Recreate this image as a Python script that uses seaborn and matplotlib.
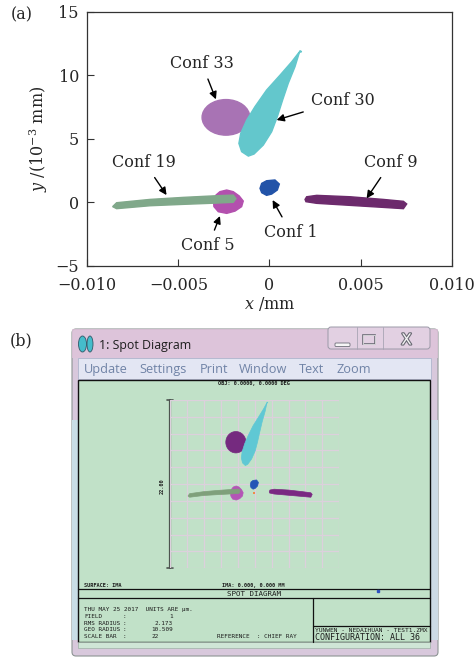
#Basic libraries
import numpy as np
import pandas as pd

#Plotting libraries
import matplotlib
matplotlib.use("Agg")
import matplotlib.pyplot as plt
import seaborn as sns
from matplotlib.patches import Ellipse, Rectangle, FancyBboxPatch
import matplotlib.patheffects as pe

#Spot outlines: x in mm, y in 1e-3 mm
conf1_x = [-0.00043, -0.00016, 0.00030, 0.00054, 0.00043, 0.00012, -0.00016, -0.00043, -0.00052]
conf1_y = [1.48, 1.69, 1.75, 1.43, 0.96, 0.64, 0.54, 0.75, 1.09]

conf5_x = [-0.00272, -0.00235, -0.00199, -0.00166, -0.00144, -0.00153, -0.00189, -0.00235, -0.00281, -0.00305, -0.00308, -0.00294]
conf5_y = [0.83, 0.96, 0.83, 0.49, 0.09, -0.35, -0.70, -0.88, -0.75, -0.35, 0.17, 0.56]

conf19_x = [-0.00861, -0.00839, -0.00656, -0.00473, -0.00290, -0.00199, -0.00184,
            -0.00199, -0.00290, -0.00473, -0.00656, -0.00839]
conf19_y = [-0.35, -0.04, 0.22, 0.38, 0.51, 0.56, 0.28,
            -0.01, -0.07, -0.17, -0.28, -0.51]

conf9_x = [0.00195, 0.00204, 0.00259, 0.00442, 0.00625, 0.00735, 0.00753,
           0.00735, 0.00625, 0.00442, 0.00259, 0.00200]
conf9_y = [0.22, 0.43, 0.54, 0.43, 0.22, 0.07, -0.14,
           -0.51, -0.41, -0.25, -0.09, 0.04]

conf30_x = [0.00177, 0.00167, 0.00140, 0.00103, 0.00072, 0.00043, 0.00012, -0.00034, -0.00085,
            -0.00116, -0.00153, -0.00168, -0.00158, -0.00125, -0.00080, -0.00016, 0.00058, 0.00122, 0.00162]
conf30_y = [11.85, 11.93, 10.67, 9.36, 8.04, 6.73, 5.55, 4.50, 3.79,
            3.63, 3.98, 4.63, 5.42, 6.47, 7.52, 8.83, 10.01, 11.06, 11.80]

#Conf 33 is an ellipse: centre and full size
conf33_center = (-0.00239, 6.68)
conf33_size = (0.00262, 2.80)

#Annotation labels
label_names = ['Conf 33', 'Conf 30', 'Conf 19', 'Conf 9', 'Conf 5', 'Conf 1']
label_x = [-0.00372, 0.00400, -0.00687, 0.00667, -0.00336, 0.00116]
label_y = [10.93, 8.04, 3.14, 3.14, -3.43, -2.37]
tip_x = [-0.00294, 0.00039, -0.00565, 0.00533, -0.00272, 0.00017]
tip_y = [8.10, 6.47, 0.56, 0.30, -1.09, 0.17]

x_ticks = [-0.010, -0.005, 0, 0.005, 0.010]
x_ticklabels = ['\u22120.010', '\u22120.005', '0', '0.005', '0.010']
y_ticks = [-5, 0, 5, 10, 15]
y_ticklabels = ['\u22125', '0', '5', '10', '15']

#Colours (a) and (b)
colors_a = {'33': '#a873b4', '30': '#63c7cc', '5': '#b350ae', '19': '#80a88a', '9': '#6c2a6c', '1': '#2253a8'}
colors_b = {'33': '#752a7f', '30': '#5fc8d4', '5': '#b455b6', '19': '#7fa07b', '9': '#7a2982', '1': '#2455b6'}

polys = {'30': (conf30_x, conf30_y), '5': (conf5_x, conf5_y), '19': (conf19_x, conf19_y),
         '9': (conf9_x, conf9_y), '1': (conf1_x, conf1_y)}

sns.set_style("ticks")
plt.rcParams['font.family'] = ['DejaVu Serif']
plt.rcParams['mathtext.fontset'] = 'dejavuserif'

fig = plt.figure(figsize=(4.75, 6.59), dpi=100)

#Panel (b) background: pixel coordinates
axb = fig.add_axes([0, 0, 1, 1], zorder=0)
axb.set_xlim(0, 475)
axb.set_ylim(659, 0)
axb.axis('off')

#window frame
axb.add_patch(FancyBboxPatch((72, 329), 366, 327, boxstyle="round,pad=0,rounding_size=4",
                             fc='#d8c8dc', ec='#8d9494', lw=0.8))
axb.add_patch(Rectangle((72, 329), 366, 29, fc='#dfc4da', ec='none', alpha=0.8))
axb.add_patch(Rectangle((72, 420), 6, 220, fc='#c9dde6', ec='none'))
axb.add_patch(Rectangle((430, 420), 8, 220, fc='#cddbe6', ec='none'))
#icon
axb.add_patch(Ellipse((82.5, 344), 8, 16, fc='#45bccb', ec='#305868', lw=0.6))
axb.add_patch(Ellipse((90, 344), 6, 16, fc='#45bccb', ec='#305868', lw=0.6))
axb.text(99, 345, '1: Spot Diagram', family='Open Sans', fontsize=8.9, color='#1e1e1e', va='center', ha='left')
#buttons
axb.add_patch(FancyBboxPatch((328, 327), 102, 22, boxstyle="round,pad=0,rounding_size=3",
                             fc='#e2d0e2', ec='#9b9aa8', lw=0.7))
axb.plot([356.7, 356.7], [327, 349], color='#a8a4b4', lw=0.6)
axb.plot([383, 383], [327, 349], color='#a8a4b4', lw=0.6)
axb.add_patch(FancyBboxPatch((335, 343), 15, 3.5, boxstyle="round,pad=0,rounding_size=1",
                             fc='#f6f6f6', ec='#6d6d78', lw=0.6))
axb.add_patch(Rectangle((363, 335), 12, 9, fc='none', ec='#6d6d78', lw=1.2))
axb.add_patch(Rectangle((363, 335), 12, 9, fc='none', ec='#f4f4f4', lw=0.5))
axb.text(406.5, 340, 'X', family='DejaVu Sans', fontsize=11, color='#f4f4f4', ha='center', va='center',
         path_effects=[pe.withStroke(linewidth=1.6, foreground='#6a6a74')])
#menu bar
axb.add_patch(Rectangle((78, 358), 352.7, 21, fc='#e3e6f3', ec='#b5bad0', lw=0.7))
menu_items = ['Update', 'Settings', 'Print', 'Window', 'Text', 'Zoom']
menu_x = [84, 139.3, 200, 239, 299.3, 336.7]
for name, mx in zip(menu_items, menu_x):
    axb.text(mx, 369.5, name, family='Open Sans', fontsize=9.2, color='#7083a6', ha='left', va='center')
#green plot window
axb.add_patch(Rectangle((78, 380), 352, 261.7, fc='#c1e1c8', ec='#111111', lw=1.0))
axb.add_patch(Rectangle((78, 641.7), 352, 6.5, fc='#cfe5d6', ec='#9fb0a6', lw=0.5))
axb.plot([78, 430], [589.3, 589.3], color='#111111', lw=0.9)
axb.plot([78, 430], [598.3, 598.3], color='#111111', lw=0.9)
axb.plot([312.7, 312.7], [598.3, 641.7], color='#111111', lw=0.9)
axb.plot([312.7, 430], [626, 626], color='#111111', lw=0.9)
#scale bar
axb.plot([170, 170], [400, 568.3], color='#4d5450', lw=1.6)
axb.plot([167, 173], [400, 400], color='#4d5450', lw=1.2)
axb.plot([167, 173], [568.3, 568.3], color='#4d5450', lw=1.2)
axb.plot([378.3], [590.7], 's', ms=1.5, color='#3050c0')

mono = 'DejaVu Sans Mono'
tc = '#1c1c1c'
axb.text(161.7, 486, '22.00', family=mono, fontsize=3.8, weight='bold', rotation=90, ha='center', va='center', color=tc)
axb.text(253.5, 384, 'OBJ: 0.0000, 0.0000 DEG', family=mono, fontsize=3.8, weight='bold', ha='center', va='center', color=tc)
axb.text(253, 585, 'IMA: 0.000, 0.000 MM', family=mono, fontsize=3.8, weight='bold', ha='center', va='center', color=tc)
axb.text(84, 585.5, 'SURFACE: IMA', family=mono, fontsize=3.8, weight='bold', ha='left', va='center', color=tc)
axb.text(254.3, 594.3, 'SPOT DIAGRAM', family=mono, fontsize=5.4, ha='center', va='center', color=tc)
axb.text(84, 610, 'THU MAY 25 2017  UNITS ARE \u00b5m.', family=mono, fontsize=4.3, ha='left', va='center', color=tc)
info_labels = ['FIELD', 'RMS RADIUS', 'GEO RADIUS', 'SCALE BAR']
info_values = ['1', '2.173', '10.509', '22']
info_right = [173, 173, 173, 159]
info_rows = [616.7, 623.2, 629.7, 636.2]
for lab, val, xr, yy in zip(info_labels, info_values, info_right, info_rows):
    axb.text(84, yy, lab, family=mono, fontsize=4.3, ha='left', va='center', color=tc)
    axb.text(124, yy, ':', family=mono, fontsize=4.3, ha='center', va='center', color=tc)
    axb.text(xr, yy, val, family=mono, fontsize=4.3, ha='right', va='center', color=tc)
axb.text(216.7, 636.2, 'REFERENCE  : CHIEF RAY', family=mono, fontsize=4.3, ha='left', va='center', color=tc)
axb.text(315, 630, 'YUNWEN - NEDAIHUAN - TEST1.ZMX', family=mono, fontsize=4.5, ha='left', va='center', color=tc)
axb.text(315, 637.3, 'CONFIGURATION: ALL 36', family=mono, fontsize=6.0, ha='left', va='center', color=tc)

fig.text(21.5 / 475, 1 - 15 / 659, '(a)', fontsize=11.5, ha='center', va='center')
fig.text(21.5 / 475, 1 - 341 / 659, '(b)', fontsize=11.5, ha='center', va='center')

#Panel (b) spot grid, units of micrometre
axs = fig.add_axes([170 / 475, 1 - 568.3 / 659, 169.3 / 475, 168.3 / 659], zorder=1)
axs.patch.set_alpha(0)
axs.set_xlim(-10.95, 11.05)
axs.set_ylim(-9.8, 12.2)
axs.axis('off')
for k in range(11):
    axs.axvline(-10.95 + 2.2 * k, color='#dcd0dc', lw=0.9, zorder=0)
    axs.axhline(-9.8 + 2.2 * k, color='#dcd0dc', lw=0.9, zorder=0)
axs.add_patch(Ellipse((conf33_center[0] * 1000, conf33_center[1]), conf33_size[0] * 1000, conf33_size[1],
                      fc=colors_b['33'], ec=colors_b['33'], lw=0.5, zorder=2))
for key in ['30', '5', '19', '9', '1']:
    px, py = polys[key]
    axs.fill(np.array(px) * 1000, py, color=colors_b[key], ec=colors_b[key], lw=0.5, zorder=3)
chief = pd.DataFrame({'x': [0.0], 'y': [0.0]})
sns.scatterplot(data=chief, x='x', y='y', ax=axs, color='#f08a4a', s=4, marker='s', linewidth=0, zorder=4)
axs.set_xlabel('')
axs.set_ylabel('')

#Panel (a)
ax = fig.add_axes([87.3 / 475, 1 - 265.7 / 659, 364.4 / 475, 254 / 659], zorder=2)
ax.set_facecolor('white')
ax.add_patch(Ellipse(conf33_center, conf33_size[0], conf33_size[1],
                     fc=colors_a['33'], ec=colors_a['33'], lw=1, zorder=2))
for key in ['30', '5', '19', '9', '1']:
    px, py = polys[key]
    ax.fill(px, py, color=colors_a[key], ec=colors_a[key], lw=1, zorder=3)

for name, lx, ly, tx, ty in zip(label_names, label_x, label_y, tip_x, tip_y):
    ax.annotate(name, xy=(tx, ty), xytext=(lx, ly), fontsize=11.5, ha='center', va='center', zorder=5,
                arrowprops=dict(arrowstyle='-|>', color='black', lw=1.0, mutation_scale=11,
                                shrinkA=3, shrinkB=0))

ax.set_xlim(-0.010, 0.010)
ax.set_ylim(-5, 15)
ax.set_xticks(x_ticks)
ax.set_xticklabels(x_ticklabels)
ax.set_yticks(y_ticks)
ax.set_yticklabels(y_ticklabels)
ax.tick_params(direction='in', length=5, width=0.8, labelsize=11.5, pad=6, color='#333333')
ax.tick_params(axis='x', pad=8)
for s in ax.spines.values():
    s.set_linewidth(0.9)
    s.set_color('#333333')
ax.set_xlabel('$x$ /mm', fontsize=11.5, labelpad=1)
ax.set_ylabel('$y$ /(10$^{-3}$ mm)', fontsize=11.5, labelpad=4)

fig.savefig('out.png', dpi=100)
